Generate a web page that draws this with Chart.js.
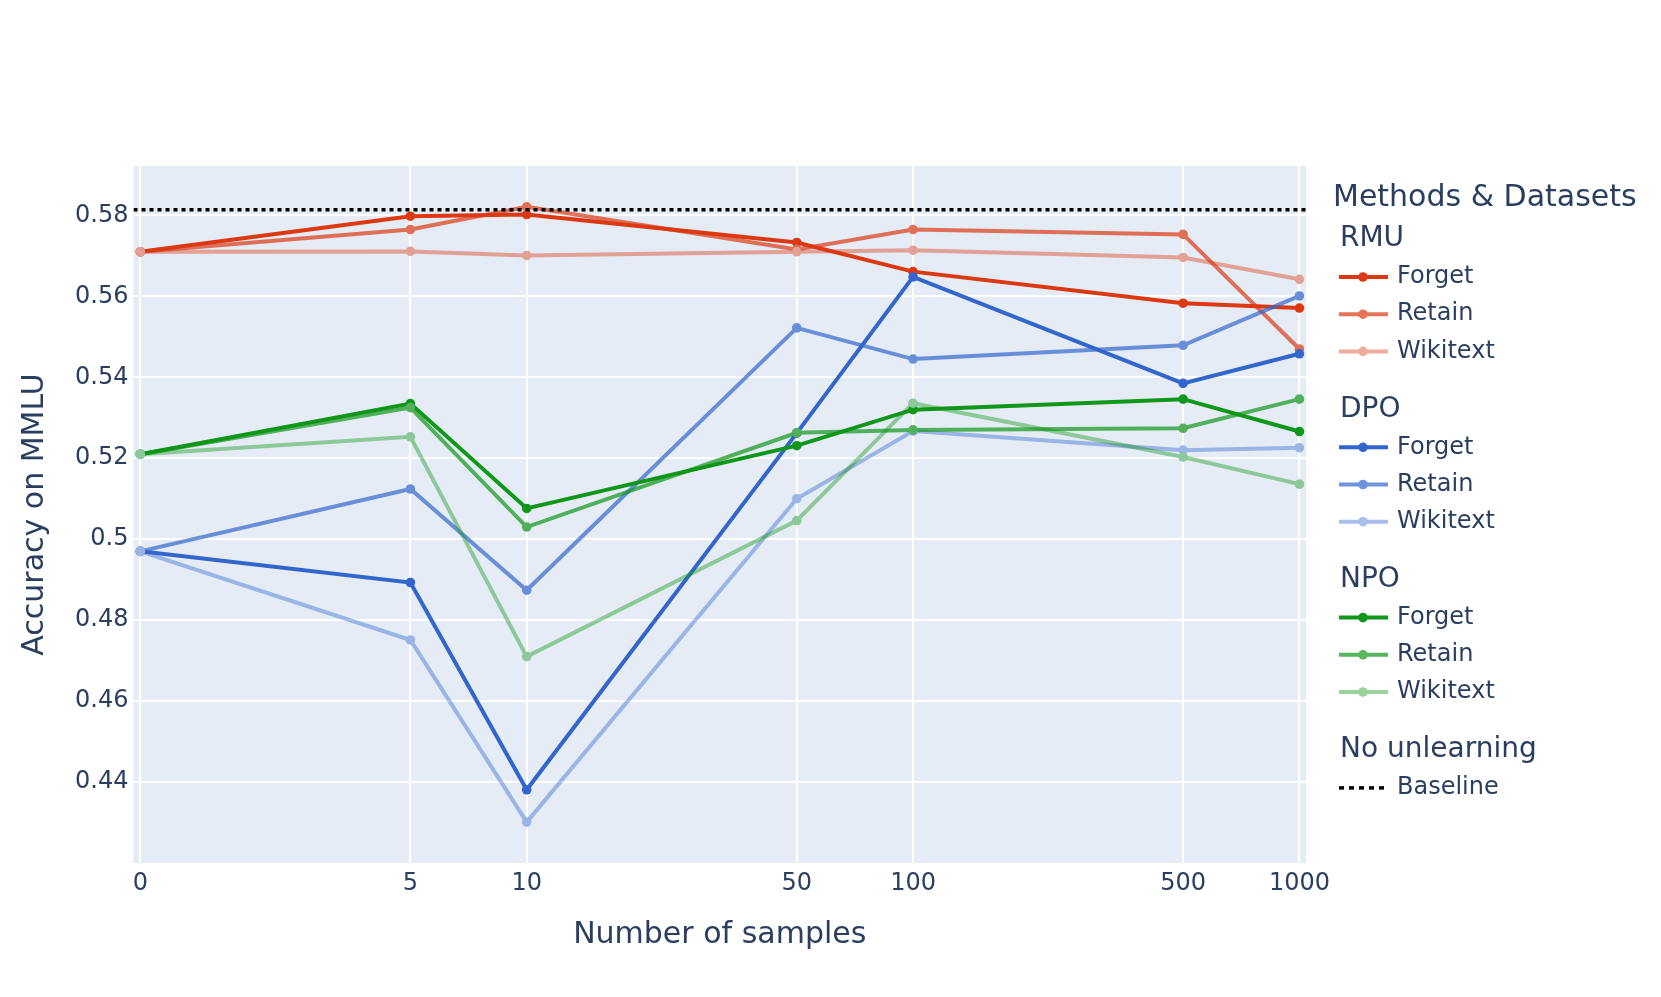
<!DOCTYPE html>
<html>
<head>
<meta charset="utf-8">
<script src="https://cdn.jsdelivr.net/npm/chart.js@4"></script>
<style>
  html, body { margin: 0; padding: 0; background: #fff; }
</style>
</head>
<body>
<canvas id="myChart" width="1661" height="997"></canvas>
<script>
// data
const samples = [0, 5, 10, 50, 100, 500, 1000];
const methods = ['RMU', 'DPO', 'NPO'];
const splits = ['Forget', 'Retain', 'Wikitext'];

const rmuForget   = [0.5710, 0.5798, 0.5802, 0.5733, 0.5661, 0.5583, 0.5571];
const rmuRetain   = [0.5710, 0.5765, 0.5821, 0.5716, 0.5765, 0.5753, 0.5470];
const rmuWikitext = [0.5710, 0.5711, 0.5701, 0.5710, 0.5714, 0.5696, 0.5642];
const dpoForget   = [0.4970, 0.4893, 0.4381, 0.5262, 0.5648, 0.5385, 0.5458];
const dpoRetain   = [0.4970, 0.5124, 0.4874, 0.5522, 0.5445, 0.5479, 0.5601];
const dpoWikitext = [0.4970, 0.4751, 0.4301, 0.5100, 0.5267, 0.5220, 0.5226];
const npoForget   = [0.5210, 0.5335, 0.5076, 0.5231, 0.5320, 0.5346, 0.5266];
const npoRetain   = [0.5210, 0.5325, 0.5030, 0.5263, 0.5270, 0.5274, 0.5346];
const npoWikitext = [0.5210, 0.5253, 0.4710, 0.5046, 0.5336, 0.5203, 0.5136];
const baseline = 0.5814;

const yTicks = [0.44, 0.46, 0.48, 0.5, 0.52, 0.54, 0.56, 0.58];
const xMin = 0.96, xMax = 1040;
const yMin = 0.42, yMax = 0.5922;

// styles
const textColor = '#2a3f5f';
const plotBg = '#E5ECF6';
const family = '"DejaVu Sans", sans-serif';
const methodColors = ['#DC3912', '#3366CC', '#109618'];
const splitOpacity = [1, 0.7, 0.42];

Chart.defaults.font.family = family;
Chart.defaults.color = textColor;

function rgb(h) {
  const n = parseInt(h.slice(1), 16);
  return [(n >> 16) & 255, (n >> 8) & 255, n & 255];
}
function rgba(h, a) {
  const c = rgb(h);
  return 'rgba(' + c.join(',') + ',' + a + ')';
}
function blend(h, a, bg) {
  const c = rgb(h), d = rgb(bg);
  return 'rgb(' + c.map((v, i) => Math.round(v * a + d[i] * (1 - a))).join(',') + ')';
}
// "0" samples sit at 1 on the log axis
const xPos = s => (s === 0 ? 1 : s);

const series = [
  [rmuForget, rmuRetain, rmuWikitext],
  [dpoForget, dpoRetain, dpoWikitext],
  [npoForget, npoRetain, npoWikitext]
];

const datasets = [];
methods.forEach((m, mi) => {
  splits.forEach((sp, si) => {
    const vals = series[mi][si];
    const col = methodColors[mi], op = splitOpacity[si];
    datasets.push({
      label: m + ' ' + sp,
      group: m,
      name: sp,
      data: samples.map((s, i) => ({ x: xPos(s), y: vals[i] })),
      borderColor: rgba(col, op),
      backgroundColor: rgba(col, op),
      pointBackgroundColor: blend(col, op, plotBg),
      pointBorderWidth: 0,
      pointRadius: 4.8,
      borderWidth: 4,
      tension: 0,
      order: 20 - datasets.length,
      legendDot: blend(col, op, '#FFFFFF')
    });
  });
});
datasets.push({
  label: 'Baseline',
  group: 'No unlearning',
  name: 'Baseline',
  data: [{ x: xMin, y: baseline }, { x: xMax, y: baseline }],
  borderColor: '#000000',
  borderDash: [4, 4],
  borderWidth: 3.5,
  pointRadius: 0,
  order: 0
});

const plotBackground = {
  id: 'plotBackground',
  beforeDraw(chart) {
    const { ctx, chartArea: a } = chart;
    ctx.save();
    ctx.fillStyle = plotBg;
    ctx.fillRect(a.left, a.top, a.right - a.left, a.bottom - a.top);
    ctx.restore();
  }
};

const groupLegend = {
  id: 'groupLegend',
  afterDraw(chart) {
    const ctx = chart.ctx;
    ctx.save();
    ctx.textAlign = 'left';
    ctx.textBaseline = 'middle';
    ctx.fillStyle = textColor;
    ctx.font = '30px ' + family;
    ctx.fillText('Methods & Datasets', 1333, 198);
    const groups = methods.concat(['No unlearning']);
    groups.forEach((g, gi) => {
      const gy = 239 + gi * 170.3;
      ctx.font = '28px ' + family;
      ctx.fillStyle = textColor;
      ctx.fillText(g, 1340, gy);
      chart.data.datasets.filter(d => d.group === g).forEach((d, k) => {
        const y = gy + 38 + k * 37.2;
        ctx.strokeStyle = d.borderColor;
        ctx.lineWidth = d.borderWidth;
        ctx.setLineDash(d.borderDash ? [5, 5] : []);
        ctx.beginPath();
        ctx.moveTo(1339, y);
        ctx.lineTo(d.borderDash ? 1384 : 1388, y);
        ctx.stroke();
        ctx.setLineDash([]);
        if (d.pointRadius) {
          ctx.fillStyle = d.legendDot;
          ctx.beginPath();
          ctx.arc(1363, y, d.pointRadius, 0, Math.PI * 2);
          ctx.fill();
        }
        ctx.font = '24px ' + family;
        ctx.fillStyle = textColor;
        ctx.fillText(d.name, 1397, y);
      });
    });
    ctx.restore();
  }
};

new Chart(document.getElementById('myChart'), {
  type: 'line',
  data: { datasets },
  plugins: [plotBackground, groupLegend],
  options: {
    responsive: false,
    animation: false,
    events: [],
    layout: { padding: { top: 166, right: 355, left: 0, bottom: 0 } },
    plugins: { legend: { display: false }, tooltip: { enabled: false } },
    scales: {
      x: {
        type: 'logarithmic',
        min: xMin,
        max: xMax,
        afterBuildTicks: s => { s.ticks = samples.map(v => ({ value: xPos(v) })); },
        afterFit: s => { s.height = 134; },
        ticks: {
          callback: v => (v === 1 ? '0' : String(v)),
          font: { size: 24 },
          color: textColor,
          padding: 6,
          autoSkip: false,
          maxRotation: 0,
          minRotation: 0
        },
        grid: { color: '#ffffff', lineWidth: 2, drawTicks: false },
        border: { display: false },
        title: {
          display: true,
          text: 'Number of samples',
          color: textColor,
          font: { size: 30 },
          padding: { top: 0, bottom: 43.6 }
        }
      },
      y: {
        type: 'linear',
        min: yMin,
        max: yMax,
        afterBuildTicks: s => { s.ticks = yTicks.map(v => ({ value: v })); },
        afterFit: s => { s.width = 133.5; },
        ticks: {
          callback: v => String(+v.toFixed(2)),
          font: { size: 24 },
          color: textColor,
          padding: 5
        },
        grid: { color: '#ffffff', lineWidth: 2, drawTicks: false },
        border: { display: false },
        title: {
          display: true,
          text: 'Accuracy on MMLU',
          color: textColor,
          font: { size: 30 },
          padding: { top: 16.9, bottom: 0 }
        }
      }
    }
  }
});
</script>
</body>
</html>
